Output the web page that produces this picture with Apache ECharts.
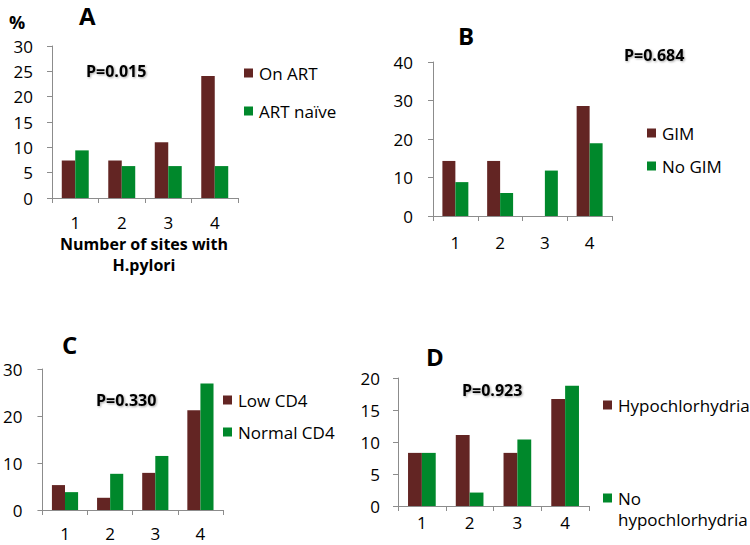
<!DOCTYPE html>
<html>
<head>
<meta charset="utf-8">
<script src="https://cdn.jsdelivr.net/npm/echarts@6/dist/echarts.min.js"></script>
<style>
html,body{margin:0;padding:0;background:#fff;}
#chart{width:750px;height:545px;}
</style>
</head>
<body>
<div id="chart"></div>
<script>
const categories = ['1', '2', '3', '4'];
const yTicksA = [0, 30, 5];
const yTicksB = [0, 40, 10];
const yTicksC = [0, 30, 10];
const yTicksD = [0, 20, 5];
const onART = [7.4, 7.4, 11.0, 24.1];
const artNaive = [9.4, 6.3, 6.3, 6.3];
const gim = [14.3, 14.3, 0, 28.6];
const noGim = [8.8, 6.0, 11.8, 18.9];
const lowCD4 = [5.3, 2.6, 7.9, 21.2];
const normalCD4 = [3.8, 7.7, 11.5, 26.9];
const hypo = [8.3, 11.1, 8.3, 16.7];
const noHypo = [8.3, 2.1, 10.4, 18.8];

const FONT = 'Open Sans';
const FS = 17;
const MAROON = '#632523';
const GREEN = '#00882b';
const AXIS = '#8c8c8c';

const grids = [
  {left: 52, top: 46, width: 186, height: 152},
  {left: 433, top: 62, width: 179, height: 154},
  {left: 40, top: 369, width: 183, height: 141},
  {left: 398, top: 378, width: 191, height: 128}
];
const yT = [yTicksA, yTicksB, yTicksC, yTicksD];
const xMargins = [16, 18, 15, 8];
const yMargins = [19, 20, 20, 18];

const xAxes = grids.map((g, i) => ({
  type: 'category', gridIndex: i, data: categories,
  axisLine: {lineStyle: {color: AXIS, width: 1}},
  axisTick: {show: true, length: 5, lineStyle: {color: AXIS}},
  axisLabel: {color: '#000', fontFamily: FONT, fontSize: FS, lineHeight: FS, margin: xMargins[i]},
  splitLine: {show: false}
}));
const yAxes = grids.map((g, i) => ({
  type: 'value', gridIndex: i, min: yT[i][0], max: yT[i][1], interval: yT[i][2],
  axisLine: {show: true, lineStyle: {color: AXIS, width: 1}},
  axisTick: {show: true, length: 5, lineStyle: {color: AXIS}},
  axisLabel: {color: '#000', fontFamily: FONT, fontSize: FS, margin: yMargins[i]},
  splitLine: {show: false}
}));

function bar(name, data, color, idx) {
  return {
    name: name, type: 'bar', data: data, xAxisIndex: idx, yAxisIndex: idx,
    itemStyle: {color: color}, barGap: '0%', barCategoryGap: '42%',
    animation: false
  };
}

const series = [
  bar('On ART', onART, MAROON, 0),
  bar('ART naïve', artNaive, GREEN, 0),
  bar('GIM', gim, MAROON, 1),
  bar('No GIM', noGim, GREEN, 1),
  bar('Low CD4', lowCD4, MAROON, 2),
  bar('Normal CD4', normalCD4, GREEN, 2),
  bar('Hypochlorhydria', hypo, MAROON, 3),
  bar('No hypochlorhydria', noHypo, GREEN, 3)
];

function legendItem(name, left, cy, fmt, lines, lineH) {
  const lh = lineH || 19;
  const n = lines || 1;
  return {
    data: [name], left: left, top: cy - (n * lh) / 2, orient: 'vertical',
    itemWidth: 9, itemHeight: 9, padding: 0, selectedMode: false,
    icon: 'rect',
    formatter: fmt || undefined,
    textStyle: {color: '#000', fontFamily: FONT, fontSize: FS, lineHeight: lh, padding: [0, 0, 0, 1]}
  };
}

const legends = [
  legendItem('On ART', 244, 73),
  legendItem('ART naïve', 244, 111),
  legendItem('GIM', 647, 133),
  legendItem('No GIM', 647, 166),
  legendItem('Low CD4', 223, 400),
  legendItem('Normal CD4', 223, 432),
  legendItem('Hypochlorhydria', 603, 405),
  legendItem('No hypochlorhydria', 603, 498, function () { return '\nNo\nhypochlorhydria'; }, 3, 21)
];

function txt(text, x, y, size, bold, shadow, align) {
  return {
    type: 'text', x: x, y: y,
    style: {
      text: text, fill: '#000', font: (bold ? 'bold ' : '') + size + 'px "' + FONT + '"',
      lineHeight: size,
      textAlign: align || 'left', textVerticalAlign: 'middle',
      textShadowColor: shadow ? 'rgba(0,0,0,0.35)' : undefined,
      textShadowBlur: shadow ? 2 : 0,
      textShadowOffsetX: shadow ? 1 : 0,
      textShadowOffsetY: shadow ? 1 : 0
    },
    z: 100
  };
}

const graphics = [
  txt('%', 9, 22, 18, true),
  txt('A', 79, 15, 24, true),
  txt('B', 458, 35, 24, true),
  txt('C', 62, 344, 24, true),
  txt('D', 426, 356, 24, true),
  txt('P=0.015', 86, 71, 16, true, true),
  txt('P=0.684', 624, 55, 16, true, true),
  txt('P=0.330', 96, 400, 16, true, true),
  txt('P=0.923', 462, 390, 16, true, true),
  txt('Number of sites with', 144, 244, 16, true, false, 'center'),
  txt('H.pylori', 144, 265, 16, true, false, 'center')
];

const chart = echarts.init(document.getElementById('chart'), null, {renderer: 'svg'});
chart.setOption({
  backgroundColor: '#fff',
  animation: false,
  grid: grids,
  xAxis: xAxes,
  yAxis: yAxes,
  legend: legends,
  series: series,
  graphic: graphics
});
</script>
</body>
</html>
